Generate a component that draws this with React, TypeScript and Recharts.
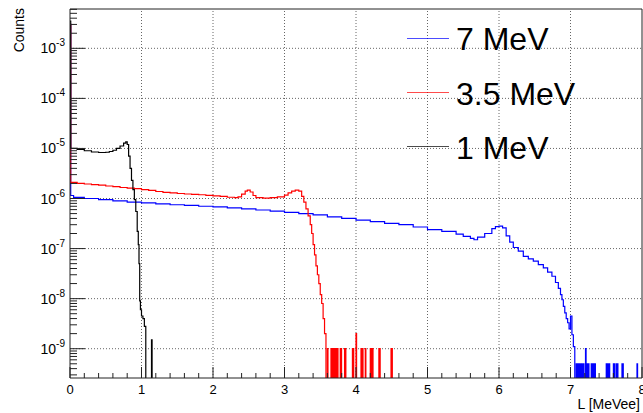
import { LineChart, Line, XAxis, YAxis, ReferenceLine } from 'recharts'

const FONT = '"Liberation Sans", Arial, Helvetica, sans-serif'
const FLOOR = 1e-10 // empty bins: below the frame, clipped like ROOT does
const SPIKE = 0.008 // width of the single-count bins in the tails
const Y_MIN = 2.6e-10
const Y_MAX = 6.1e-3

// 1 MeV
const blackX = [0, 0.01, 0.1, 0.2, 0.3, 0.4, 0.5, 0.55, 0.6, 0.65, 0.7, 0.75, 0.78, 0.8, 0.82, 0.84, 0.86, 0.88, 0.9, 0.92, 0.94, 0.955, 0.965, 0.975, 0.985, 1.0, 1.02, 1.04, 1.06]
const blackY = [3.5e-3, 1.0e-5, 9.6e-6, 9.0e-6, 8.5e-6, 8.3e-6, 8.4e-6, 8.7e-6, 9.2e-6, 1.0e-5, 1.12e-5, 1.28e-5, 1.35e-5, 1.2e-5, 7e-6, 4e-6, 2.3e-6, 1.5e-6, 9.5e-7, 5.5e-7, 2.2e-7, 1.2e-7, 5e-8, 9e-9, 6e-9, 4.5e-9, 4e-9, 2.8e-9, FLOOR]
const blackSpikeX = [1.14]
const blackSpikeY = [1.5e-9]

// 3.5 MeV
const redX = [0, 0.01, 0.1, 0.2, 0.3, 0.4, 0.5, 0.6, 0.7, 0.8, 0.9, 1.0, 1.1, 1.2, 1.3, 1.4, 1.5, 1.6, 1.7, 1.8, 1.9, 2.0, 2.1, 2.2, 2.3, 2.35, 2.4, 2.45, 2.48, 2.52, 2.56, 2.6, 2.7, 2.8, 2.9, 3.0, 3.05, 3.1, 3.15, 3.2, 3.24, 3.27, 3.3, 3.33, 3.36, 3.38, 3.4, 3.42, 3.44, 3.46, 3.48, 3.5, 3.52, 3.54, 3.56, 3.58]
const redY = [3e-3, 2.1e-6, 2.0e-6, 1.95e-6, 1.9e-6, 1.85e-6, 1.78e-6, 1.72e-6, 1.66e-6, 1.62e-6, 1.57e-6, 1.5e-6, 1.45e-6, 1.38e-6, 1.33e-6, 1.3e-6, 1.26e-6, 1.23e-6, 1.21e-6, 1.19e-6, 1.16e-6, 1.13e-6, 1.1e-6, 1.06e-6, 1.04e-6, 1.08e-6, 1.22e-6, 1.4e-6, 1.47e-6, 1.35e-6, 1.15e-6, 1.04e-6, 1.02e-6, 1.04e-6, 1.08e-6, 1.17e-6, 1.3e-6, 1.4e-6, 1.47e-6, 1.4e-6, 1.1e-6, 8.5e-7, 6.2e-7, 4.5e-7, 3e-7, 2e-7, 1.2e-7, 7.5e-8, 4.5e-8, 3e-8, 2e-8, 1.2e-8, 8e-9, 4e-9, 2e-9, FLOOR]
const redSpikeX = [3.6, 3.65, 3.66, 3.67, 3.68, 3.69, 3.7, 3.71, 3.72, 3.73, 3.74, 3.78, 3.79, 3.84, 3.85, 3.95, 3.96, 4.0, 4.07, 4.08, 4.09, 4.13, 4.2, 4.21, 4.23, 4.32, 4.33, 4.49, 4.5]
const redSpikeY = [1e-9, 1e-9, 1e-9, 1e-9, 1e-9, 1e-9, 1e-9, 1e-9, 1e-9, 1e-9, 1e-9, 1e-9, 1e-9, 1e-9, 1e-9, 1e-9, 1e-9, 2e-9, 1e-9, 1e-9, 1e-9, 1e-9, 1e-9, 1e-9, 1e-9, 1e-9, 1e-9, 1e-9, 1e-9]

// 7 MeV
const blueX = [0, 0.01, 0.05, 0.2, 0.4, 0.6, 0.8, 1.0, 1.2, 1.4, 1.6, 1.8, 2.0, 2.2, 2.4, 2.6, 2.8, 3.0, 3.2, 3.4, 3.6, 3.8, 4.0, 4.2, 4.4, 4.6, 4.8, 5.0, 5.2, 5.4, 5.5, 5.6, 5.65, 5.7, 5.8, 5.9, 5.95, 6.0, 6.05, 6.1, 6.15, 6.2, 6.27, 6.34, 6.41, 6.48, 6.55, 6.62, 6.68, 6.74, 6.79, 6.83, 6.86, 6.88, 6.9, 6.92, 6.94, 6.96, 6.98, 7.0, 7.02, 7.04, 7.06]
const blueY = [3e-3, 1.15e-6, 1.05e-6, 1.0e-6, 9.5e-7, 9.0e-7, 8.5e-7, 8.2e-7, 7.8e-7, 7.5e-7, 7.3e-7, 7.0e-7, 6.8e-7, 6.5e-7, 6.2e-7, 5.9e-7, 5.6e-7, 5.3e-7, 5.0e-7, 4.7e-7, 4.3e-7, 4.0e-7, 3.7e-7, 3.45e-7, 3.2e-7, 3.0e-7, 2.7e-7, 2.4e-7, 2.2e-7, 1.95e-7, 1.75e-7, 1.6e-7, 1.5e-7, 1.7e-7, 2.0e-7, 2.5e-7, 2.75e-7, 2.8e-7, 2.6e-7, 1.8e-7, 1.35e-7, 1.05e-7, 8.9e-8, 7e-8, 6.2e-8, 5.6e-8, 4.8e-8, 4.1e-8, 3.4e-8, 2.8e-8, 2.1e-8, 1.6e-8, 1.2e-8, 9.5e-9, 7e-9, 5.2e-9, 4e-9, 3.3e-9, 2.5e-9, 4.5e-9, 1.9e-9, 1.1e-9, FLOOR]
const blueSpikeX = [7.08, 7.095, 7.11, 7.13, 7.155, 7.18, 7.21, 7.23, 7.25, 7.29, 7.31, 7.33, 7.34, 7.5, 7.515, 7.54, 7.6, 7.61, 7.64, 7.655, 7.72, 7.73, 7.93]
const blueSpikeY = [5e-10, 5e-10, 5e-10, 5e-10, 5e-10, 5e-10, 1e-9, 5e-10, 5e-10, 5e-10, 5e-10, 5e-10, 5e-10, 5e-10, 5e-10, 5e-10, 5e-10, 5e-10, 5e-10, 5e-10, 5e-10, 5e-10, 5e-10]

const legendNames = ['7 MeV', '3.5 MeV', '1 MeV']
const legendColors = ['#0000ff', '#ff0000', '#000000']

const yExponents = [-9, -8, -7, -6, -5, -4, -3]
const xLabels = [0, 1, 2, 3, 4, 5, 6, 7, 8]

function toPoints(xs: number[], ys: number[], sx: number[], sy: number[]) {
  const pts = xs.map((x, i) => ({ x, y: ys[i] }))
  sx.forEach((x, i) => {
    pts.push({ x, y: sy[i] })
    pts.push({ x: x + SPIKE, y: FLOOR })
  })
  return pts
}

const blueData = toPoints(blueX, blueY, blueSpikeX, blueSpikeY)
const redData = toPoints(redX, redY, redSpikeX, redSpikeY)
const blackData = toPoints(blackX, blackY, blackSpikeX, blackSpikeY)

// 2..9 x 10^n minor ticks plus the decades
const yTicks: number[] = []
for (let e = -10; e <= -3; e++) {
  for (let m = 1; m <= 9; m++) {
    const v = m * Math.pow(10, e)
    if (v >= Y_MIN && v <= Y_MAX) yTicks.push(v)
  }
}
const xTicks = Array.from({ length: 41 }, (_, i) => Math.round(i * 2) / 10)

function YTick(props: any) {
  const { x, y, payload } = props
  const lg = Math.log10(payload.value)
  const exp = Math.round(lg)
  const major = Math.abs(lg - exp) < 1e-6
  return (
    <g>
      <line x1={x} x2={x + (major ? 15 : 7)} y1={y} y2={y} stroke="#222" />
      {major && (
        <text x={x - 5} y={y + 5} textAnchor="end" fontSize={14} fontFamily={FONT} fill="#000">
          10
          <tspan dy={-7} fontSize={10}>
            {exp}
          </tspan>
        </text>
      )}
    </g>
  )
}

function XTick(props: any) {
  const { x, y, payload } = props
  const v = payload.value
  const major = Math.abs(v - Math.round(v)) < 1e-6
  return (
    <g>
      <line x1={x} x2={x} y1={y} y2={y - (major ? 11 : 5)} stroke="#222" />
      {major && (
        <text x={x} y={y + 16} textAnchor="middle" fontSize={13} fontFamily={FONT} fill="#000">
          {Math.round(v)}
        </text>
      )}
    </g>
  )
}

export default function App() {
  return (
    <div
      style={{
        position: 'absolute',
        left: 0,
        top: 0,
        width: 643,
        height: 413,
        background: '#fff',
        fontFamily: FONT,
      }}
    >
      <LineChart width={643} height={413} margin={{ top: 9, right: 1, bottom: 0, left: 0 }}>
        <XAxis
          type="number"
          dataKey="x"
          domain={[0, 8]}
          ticks={xTicks}
          interval={0}
          allowDataOverflow
          height={35}
          tickSize={0}
          tickMargin={0}
          tickLine={false}
          axisLine={{ stroke: '#222' }}
          tick={XTick}
        />
        <YAxis
          type="number"
          dataKey="y"
          scale="log"
          domain={[Y_MIN, Y_MAX]}
          ticks={yTicks}
          interval={0}
          allowDataOverflow
          width={70}
          tickSize={0}
          tickMargin={0}
          tickLine={false}
          axisLine={{ stroke: '#222' }}
          tick={YTick}
        />
        {yExponents.map((e) => (
          <ReferenceLine key={'gy' + e} y={Math.pow(10, e)} stroke="#666" strokeDasharray="1 2" />
        ))}
        {xLabels.slice(1, -1).map((v) => (
          <ReferenceLine key={'gx' + v} x={v} stroke="#666" strokeDasharray="1 2" />
        ))}
        <ReferenceLine y={Y_MAX} stroke="#222" />
        <ReferenceLine x={8} stroke="#222" />
        <Line data={blueData} dataKey="y" type="stepAfter" stroke="#0000ff" strokeWidth={1.2} dot={false} isAnimationActive={false} />
        <Line data={redData} dataKey="y" type="stepAfter" stroke="#ff0000" strokeWidth={1.2} dot={false} isAnimationActive={false} />
        <Line data={blackData} dataKey="y" type="stepAfter" stroke="#000000" strokeWidth={1.2} dot={false} isAnimationActive={false} />
      </LineChart>
      <svg width={643} height={413} style={{ position: 'absolute', left: 0, top: 0, pointerEvents: 'none' }}>
        <text transform="translate(24,8) rotate(-90)" textAnchor="end" fontSize={14} fontFamily={FONT} fill="#000">
          Counts
        </text>
        <text x={640} y={409} textAnchor="end" fontSize={14} fontFamily={FONT} fill="#000">
          L [MeVee]
        </text>
        {legendNames.map((name, i) => (
          <g key={name}>
            <line x1={407} x2={449} y1={38.5 + i * 54} y2={38.5 + i * 54} stroke={legendColors[i]} strokeOpacity={0.7} />
            <text x={456} y={50 + i * 54.5} fontSize={32} fontFamily={FONT} fill="#000">
              {name}
            </text>
          </g>
        ))}
      </svg>
    </div>
  )
}
